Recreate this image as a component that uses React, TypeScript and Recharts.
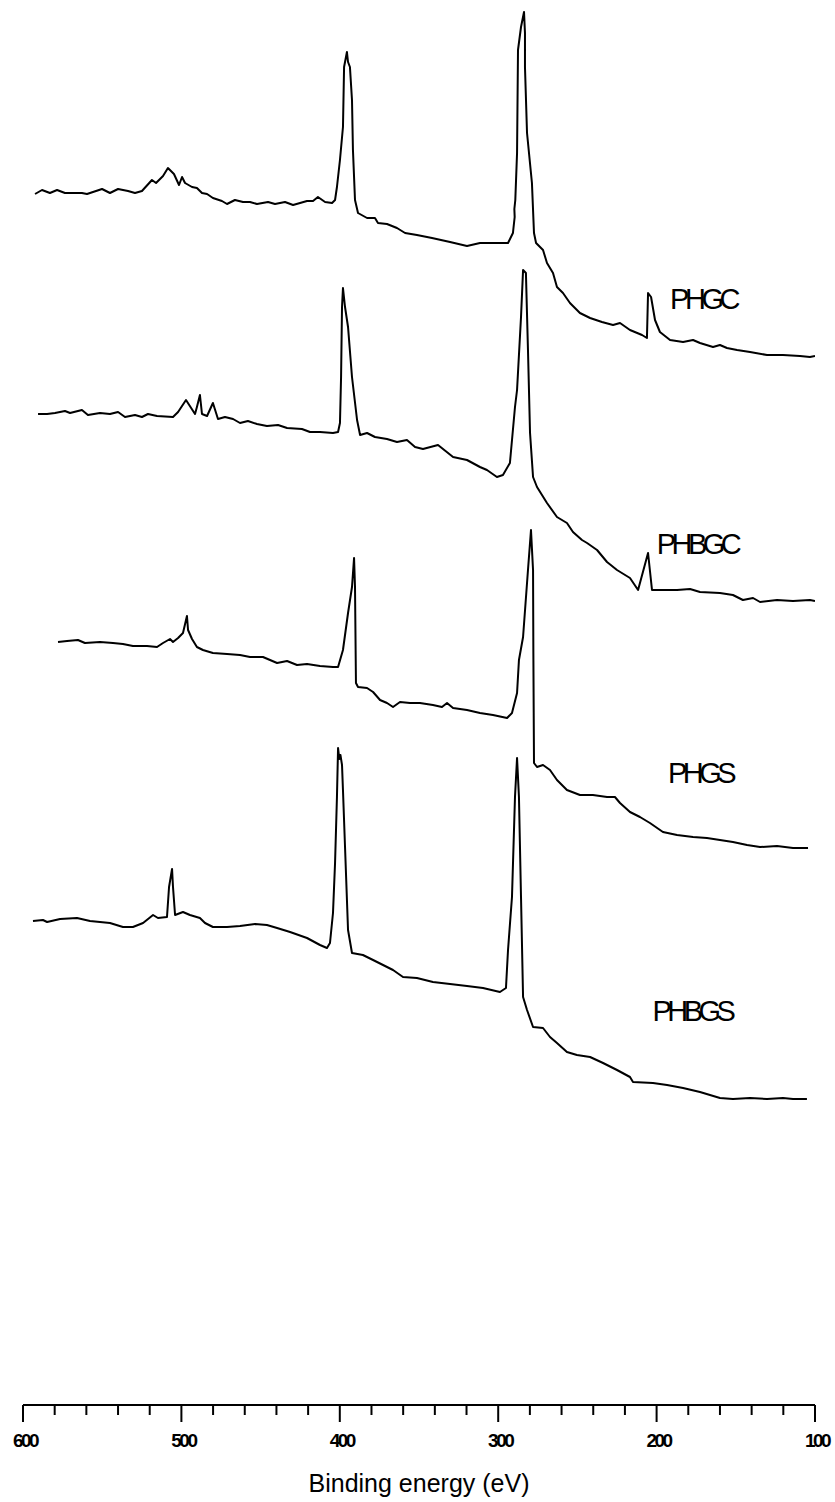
import React from "react";
import { LineChart, Line, XAxis, YAxis, ReferenceDot } from "recharts";

// XPS survey spectra, stacked with a vertical offset (intensity in a.u.)
const phgc = [
  [592.4, 1211], [588.0, 1215], [583.0, 1212], [578.5, 1215], [573.5, 1212], [562.8, 1212],
  [559.6, 1211], [550.1, 1216], [545.1, 1212], [540.0, 1216], [533.7, 1214], [529.3, 1212],
  [524.9, 1214], [518.6, 1225], [516.0, 1222], [511.6, 1229], [508.5, 1237], [504.7, 1231],
  [501.5, 1220], [499.6, 1228], [497.7, 1222], [493.3, 1218], [490.2, 1217], [487.0, 1212],
  [483.8, 1211], [480.1, 1207], [474.4, 1204], [471.2, 1201], [466.2, 1205], [461.1, 1203],
  [456.7, 1203], [452.3, 1201], [445.3, 1203], [440.9, 1201], [434.6, 1203], [429.5, 1200],
  [420.7, 1204], [416.9, 1204], [413.8, 1208], [409.3, 1203], [404.9, 1202], [403.0, 1205],
  [401.8, 1218], [399.9, 1245], [398.0, 1278], [397.3, 1338], [395.5, 1353], [394.8, 1343],
  [393.6, 1338], [392.3, 1305], [391.7, 1255], [390.4, 1205], [388.5, 1192], [382.8, 1187],
  [377.8, 1187], [375.9, 1182], [370.2, 1181], [363.9, 1177], [358.8, 1172], [351.3, 1170],
  [341.8, 1167], [330.4, 1163], [319.7, 1159], [311.5, 1162], [300.8, 1162], [293.8, 1162],
  [290.7, 1172], [289.6, 1188], [289.8, 1196], [289.2, 1205], [288.1, 1252], [287.5, 1355],
  [285.6, 1378], [283.7, 1393], [283.1, 1372], [283.1, 1338], [281.8, 1272], [278.7, 1222],
  [277.4, 1172], [276.1, 1162], [271.7, 1155], [269.2, 1142], [265.4, 1132], [262.9, 1118],
  [259.1, 1112], [254.7, 1102], [248.4, 1092], [242.0, 1087], [234.5, 1083], [227.5, 1080],
  [223.1, 1082], [216.8, 1075], [209.2, 1070], [206.1, 1067], [205.4, 1112], [203.5, 1108],
  [201.0, 1085], [197.9, 1073], [191.5, 1065], [183.3, 1063], [177.0, 1065], [172.6, 1062],
  [164.4, 1058], [160.0, 1060], [155.6, 1057], [149.2, 1055], [141.0, 1053], [130.3, 1050],
  [120.2, 1050], [109.5, 1049], [103.2, 1048], [100.0, 1049],
];

const phbgc = [
  [590.5, 991], [584.8, 991], [579.8, 992], [573.5, 994], [570.3, 992], [562.8, 995],
  [559.0, 990], [551.4, 992], [545.1, 991], [540.0, 993], [535.6, 988], [529.3, 990],
  [524.9, 988], [521.1, 991], [515.4, 989], [505.3, 988], [502.1, 993], [497.1, 1005],
  [491.4, 991], [490.2, 998], [488.3, 1010], [487.0, 991], [483.8, 989], [480.1, 1002],
  [476.9, 986], [472.5, 988], [467.4, 986], [463.0, 982], [458.0, 984], [452.3, 981],
  [446.0, 979], [439.0, 980], [433.3, 977], [423.9, 976], [418.8, 973], [412.5, 973],
  [404.3, 972], [401.1, 973], [399.9, 982], [399.2, 1028], [398.6, 1098], [398.0, 1117],
  [396.7, 1098], [394.8, 1078], [392.3, 1028], [389.1, 985], [387.2, 970], [382.8, 972],
  [377.8, 968], [370.2, 966], [363.9, 963], [357.6, 965], [352.5, 958], [347.5, 956],
  [338.0, 960], [328.5, 948], [319.7, 945], [311.5, 938], [307.1, 935], [300.8, 928],
  [297.0, 930], [292.6, 942], [289.4, 998], [288.1, 1015], [285.6, 1088], [284.3, 1135],
  [282.5, 1132], [281.2, 1055], [279.9, 972], [278.0, 928], [275.5, 918], [269.2, 902],
  [262.9, 888], [256.6, 882], [252.8, 873], [247.1, 865], [243.9, 862], [237.6, 855],
  [231.3, 843], [225.0, 835], [216.8, 827], [211.7, 815], [205.4, 852], [202.9, 815],
  [196.0, 815], [187.1, 815], [178.9, 816], [172.6, 813], [160.0, 812], [151.8, 810],
  [145.5, 805], [139.1, 807], [134.7, 803], [124.0, 805], [113.9, 804], [103.2, 805],
  [100.0, 804],
];

const phgs = [
  [577.9, 763], [572.2, 764], [565.3, 765], [560.9, 762], [551.4, 763], [543.2, 762],
  [536.9, 761], [530.6, 759], [521.7, 759], [515.4, 758], [511.6, 762], [507.2, 766],
  [505.3, 763], [502.1, 767], [499.0, 772], [496.5, 789], [495.8, 775], [493.3, 766],
  [490.2, 758], [486.4, 755], [480.1, 752], [471.2, 751], [463.0, 750], [456.7, 748],
  [448.5, 748], [439.6, 742], [433.3, 744], [427.0, 740], [420.7, 741], [412.5, 739],
  [404.3, 738], [401.1, 738], [398.0, 755], [394.8, 792], [392.3, 818], [391.0, 847],
  [390.4, 818], [389.8, 722], [388.5, 718], [382.8, 717], [379.0, 713], [374.6, 705],
  [370.2, 702], [366.4, 698], [362.0, 703], [355.7, 702], [349.4, 702], [341.2, 700],
  [335.5, 698], [332.3, 702], [328.5, 697], [319.7, 695], [311.5, 692], [303.3, 690],
  [294.4, 687], [291.3, 692], [288.1, 712], [286.9, 745], [284.3, 768], [281.2, 835],
  [279.3, 875], [278.0, 835], [277.8, 752], [277.4, 642], [275.5, 638], [271.7, 640],
  [267.3, 635], [262.9, 625], [256.6, 615], [248.4, 610], [240.2, 610], [231.3, 608],
  [226.3, 608], [223.1, 602], [216.8, 593], [210.5, 588], [204.2, 582], [196.0, 573],
  [187.1, 570], [177.0, 568], [168.2, 567], [160.0, 565], [151.8, 563], [142.9, 560],
  [134.7, 558], [124.0, 559], [113.9, 557], [104.4, 557],
];

const phbgs = [
  [593.7, 484], [587.4, 485], [584.8, 483], [576.6, 486], [565.9, 487], [557.7, 484],
  [545.1, 482], [536.9, 478], [530.6, 478], [524.2, 482], [517.9, 490], [514.8, 487],
  [509.1, 488], [507.8, 518], [505.9, 536], [505.3, 518], [504.0, 490], [499.0, 493],
  [494.6, 490], [488.3, 487], [485.1, 482], [480.1, 478], [471.2, 478], [463.0, 479],
  [453.5, 481], [446.0, 480], [439.6, 477], [431.4, 473], [420.7, 467], [412.5, 460],
  [408.1, 457], [406.2, 462], [404.3, 492], [403.0, 542], [401.8, 608], [401.1, 657],
  [400.3, 646], [399.6, 650], [398.6, 640], [398.0, 615], [396.7, 558], [394.8, 475],
  [392.3, 452], [385.4, 450], [379.0, 445], [372.7, 440], [366.4, 435], [360.1, 428],
  [351.3, 427], [341.2, 423], [330.4, 421], [319.7, 419], [309.6, 417], [298.9, 413],
  [295.1, 417], [293.8, 455], [291.3, 508], [289.4, 608], [288.1, 647], [286.9, 608],
  [285.6, 508], [284.3, 408], [281.8, 395], [278.0, 378], [271.7, 377], [267.3, 368],
  [262.9, 362], [256.6, 353], [250.3, 350], [242.0, 348], [233.8, 342], [225.0, 335],
  [216.8, 328], [214.9, 323], [202.3, 322], [193.4, 320], [183.3, 317], [172.6, 313],
  [160.0, 307], [151.8, 306], [141.0, 307], [130.3, 306], [120.2, 307], [113.9, 306],
  [105.1, 306],
];

const energyTicks = [600, 580, 560, 540, 520, 500, 480, 460, 440, 420, 400, 380, 360, 340, 320, 300,
  280, 260, 240, 220, 200, 180, 160, 140, 120, 100];

const sampleNames = ["PHGC", "PHBGC", "PHGS", "PHBGS"];
const spectra = [phgc, phbgc, phgs, phbgs];
// where each sample name sits (eV, a.u.)
const namePositions = [[170.7, 1106], [174.5, 861], [172.6, 632], [177.7, 394]];

const toRows = (pts: number[][]) => pts.map(([be, counts]) => ({ be, counts }));

const FONT = '"Liberation Sans", Arial, sans-serif';

function EnergyTick(props: any) {
  const { x, y, payload } = props;
  const major = payload.value % 100 === 0;
  return (
    <g>
      <line x1={x} x2={x} y1={y} y2={y + (major ? 17 : 10)} stroke="#000" strokeWidth={2} />
      {major && (
        <text
          x={x + 2}
          y={y + 35}
          textAnchor="middle"
          dominantBaseline="central"
          fontFamily={FONT}
          fontWeight="bold"
          fontSize={19}
          letterSpacing={-2.5}
          fill="#000"
        >
          {payload.value}
        </text>
      )}
    </g>
  );
}

function AxisTitle(props: any) {
  const { viewBox } = props;
  return (
    <text
      x={viewBox.x + viewBox.width / 2}
      y={viewBox.y + 78}
      textAnchor="middle"
      dominantBaseline="central"
      fontFamily={FONT}
      fontSize={25}
      fill="#000"
    >
      Binding energy (eV)
    </text>
  );
}

function SampleName(props: any) {
  const { viewBox, text } = props;
  return (
    <text
      x={viewBox.x + viewBox.width / 2}
      y={viewBox.y + viewBox.height / 2}
      textAnchor="middle"
      dominantBaseline="central"
      fontFamily={FONT}
      fontSize={29}
      letterSpacing={-4.5}
      fill="#000"
    >
      {text}
    </text>
  );
}

export default function App() {
  return (
    <div style={{ position: "absolute", left: 0, top: 0, background: "#fff" }}>
      <LineChart width={835} height={1502} margin={{ top: 0, right: 20, bottom: 0, left: 23 }}>
        <XAxis
          dataKey="be"
          type="number"
          domain={[100, 600]}
          reversed
          allowDataOverflow
          ticks={energyTicks}
          interval={0}
          height={97}
          tickSize={0}
          tickMargin={0}
          tickLine={false}
          axisLine={{ stroke: "#000", strokeWidth: 2 }}
          tick={<EnergyTick />}
          label={<AxisTitle />}
        />
        <YAxis hide type="number" domain={[0, 1405]} allowDataOverflow />
        {spectra.map((s, i) => (
          <Line
            key={sampleNames[i]}
            data={toRows(s)}
            dataKey="counts"
            type="linear"
            stroke="#000"
            strokeWidth={2}
            strokeLinejoin="round"
            dot={false}
            activeDot={false}
            isAnimationActive={false}
          />
        ))}
        {sampleNames.map((name, i) => (
          <ReferenceDot
            key={name}
            x={namePositions[i][0]}
            y={namePositions[i][1]}
            r={1}
            fill="none"
            stroke="none"
            label={<SampleName text={name} />}
          />
        ))}
      </LineChart>
    </div>
  );
}
